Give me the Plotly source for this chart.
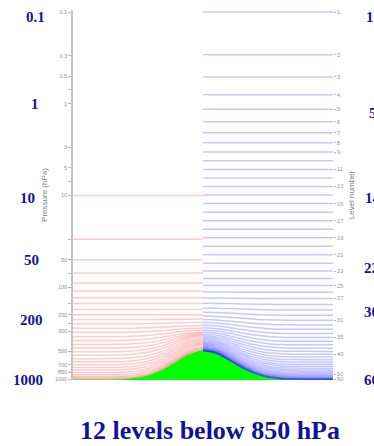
import plotly.graph_objects as go

# ---------------------------------------------------------------------------
# Vertical cross-section of hybrid model levels over an idealised mountain.
# Left half: 31-level set (red); right half: 60-level set (blue).
# ---------------------------------------------------------------------------

P0 = 1013.25  # reference surface pressure, hPa

# L60 hybrid coefficients at half levels: a (Pa) and b
a60 = [0.0, 20.0, 38.425343, 63.647804, 95.636963, 134.483307, 180.584351,
       234.779053, 298.495789, 373.971924, 464.618134, 575.651001, 713.218079,
       883.660522, 1094.834717, 1356.474609, 1680.640259, 2082.273926,
       2579.888672, 3196.421631, 3960.291504, 4906.708496, 6018.019531,
       7306.631348, 8765.053711, 10376.126953, 12077.446289, 13775.325195,
       15379.805664, 16819.474609, 18045.183594, 19027.695313, 19755.109375,
       20222.205078, 20429.863281, 20384.480469, 20097.402344, 19584.330078,
       18864.750000, 17961.357422, 16899.468750, 15706.447266, 14411.124023,
       13043.218750, 11632.758789, 10209.500977, 8802.356445, 7438.803223,
       6144.314941, 4941.778320, 3850.913330, 2887.696533, 2063.779785,
       1385.912598, 855.361755, 467.333588, 210.393890, 65.889244, 7.367743,
       0.0, 0.0]
b60 = [0.0] * 24 + [0.000076, 0.000461, 0.001815, 0.005081, 0.011143,
       0.020678, 0.034121, 0.051690, 0.073534, 0.099675, 0.130023, 0.164384,
       0.202476, 0.243933, 0.288323, 0.335155, 0.383892, 0.433963, 0.484772,
       0.535710, 0.586168, 0.635547, 0.683269, 0.728786, 0.771597, 0.811253,
       0.847375, 0.879657, 0.907884, 0.931940, 0.951822, 0.967645, 0.979663,
       0.988270, 0.994019, 0.997630, 1.000000]

# L31 levels: pressure over flat ground (hPa) and terrain-following weight b
p31_flat = [10, 30, 50, 70, 90, 110, 130, 150, 175, 200, 225, 250, 280, 310,
            345, 380, 420, 460, 505, 550, 600, 650, 700, 750, 800, 850, 895,
            935, 965, 990, 1005]
b31 = [0, 0, 0, 0, 0, 0, 0, 0, 0, 0, 0.005, 0.015, 0.035, 0.06, 0.1, 0.14,
       0.2, 0.26, 0.33, 0.4, 0.47, 0.54, 0.61, 0.68, 0.75, 0.82, 0.87, 0.92,
       0.955, 0.98, 0.992]

# surface pressure along the section (x from 0 to 1)
x_pos = [0.00, 0.05, 0.10, 0.15, 0.20, 0.25, 0.30, 0.35, 0.40, 0.45, 0.50,
         0.55, 0.60, 0.65, 0.70, 0.75, 0.80, 0.85, 0.90, 0.95, 1.00]
ps = [1013.25, 1013.25, 1013.0, 1011.0, 1000.0, 965.0, 895.0, 780.0, 640.0,
      535.0, 490.0, 525.0, 620.0, 750.0, 870.0, 955.0, 995.0, 1010.0, 1013.0,
      1013.25, 1013.25]

# axis labelling
p_ticks = [0.1, 0.3, 0.5, 0.7, 1, 3, 5, 7, 10, 30, 50, 70, 100, 150, 200,
           250, 300, 500, 700, 850, 1000]
p_ticktext = ["0.1", "0.3", "0.5", "", "1", "3", "5", "", "10", "", "50", "",
              "100", "", "200", "", "300", "500", "700", "850", "1000"]
level_ticks = [1, 2, 3, 4, 5, 6, 7, 8, 9, 11, 13, 15, 17, 19, 21, 23, 25, 27,
               31, 35, 40, 50, 60]
p_side_labels = ["0.1", "1", "10", "50", "200", "1000"]
p_side_pos = [17, 104, 198, 260, 320, 380]
p_side_x = [35, 35, 27, 31, 31, 28]
lev_side_labels = ["1", "5", "14", "22", "30", "60"]
lev_side_pos = [17, 113, 198, 268, 312, 380]
lev_side_x = [364, 367, 363, 362, 362, 362]
title_text = "12 levels below 850 hPa"

# layout geometry (pixels)
W, H = 374, 446
L, R, T, B = 73, 41, 10, 66
PW, PH = W - L - R, H - T - B


def px_x(px):
    return (px - L) / PW


def px_y(py):
    return (H - B - py) / PH


fig = go.Figure()

# red: 31-level set on the left half
left_idx = [i for i, x in enumerate(x_pos) if x <= 0.5]
for pf, bk in zip(p31_flat, b31):
    ak = pf - bk * P0
    fig.add_trace(go.Scatter(
        x=[x_pos[i] for i in left_idx],
        y=[ak + bk * ps[i] for i in left_idx],
        mode="lines", line=dict(color="rgba(255,0,0,0.2)", width=1.5,
                                shape="spline"),
        hoverinfo="skip", showlegend=False))

# blue: 60-level set on the right half
right_idx = [i for i, x in enumerate(x_pos) if x >= 0.5]
n60 = len(a60) - 1
p60_flat = []
for k in range(1, n60 + 1):
    af = (a60[k - 1] + a60[k]) / 200.0
    bf = (b60[k - 1] + b60[k]) / 2.0
    p60_flat.append(af + bf * P0)
    fig.add_trace(go.Scatter(
        x=[x_pos[i] for i in right_idx],
        y=[af + bf * ps[i] for i in right_idx],
        yaxis="y2",
        mode="lines", line=dict(color="rgba(0,0,255,0.22)", width=1.5,
                                shape="spline"),
        hoverinfo="skip", showlegend=False))

# mountain
fig.add_trace(go.Scatter(
    x=x_pos + [1.0, 0.0], y=ps + [1100, 1100],
    mode="lines", fill="toself", fillcolor="#00ff00",
    line=dict(color="#00ff00", width=0, shape="spline"),
    hoverinfo="skip", showlegend=False))

yrange = [3.0109, -1.0218]
tick_font = dict(family="Liberation Sans, Arial", size=5.5, color="#909090")

fig.update_layout(
    width=W, height=H, autosize=False,
    margin=dict(l=L, r=R, t=T, b=B, pad=0),
    paper_bgcolor="white", plot_bgcolor="white",
    xaxis=dict(range=[0, 1], visible=False, fixedrange=True),
    yaxis=dict(type="log", range=yrange, tickvals=p_ticks,
               ticktext=p_ticktext, ticks="outside", ticklen=3,
               tickcolor="#b8b8b8", tickfont=tick_font, showgrid=False,
               zeroline=False, showline=True, linecolor="#c4c4c4",
               linewidth=1.5,
               title=dict(text="Pressure (hPa)", standoff=6,
                          font=dict(family="Liberation Sans, Arial", size=8,
                                    color="#808080"))),
    yaxis2=dict(type="log", range=yrange, overlaying="y", side="right",
                tickvals=[p60_flat[n - 1] for n in level_ticks],
                ticktext=[str(n) for n in level_ticks], ticks="outside",
                ticklen=2, tickcolor="#b8b8b8", tickfont=tick_font,
                showgrid=False, zeroline=False, showline=False,
                title=dict(text="Level number", standoff=6,
                           font=dict(family="Liberation Sans, Arial", size=8,
                                     color="#808080"))),
)

big_font = dict(family="Liberation Serif, Times New Roman", size=15,
                color="#12129a")
for txt, py, pxc in zip(p_side_labels, p_side_pos, p_side_x):
    fig.add_annotation(text="<b>%s</b>" % txt, xref="paper", yref="paper",
                       x=px_x(pxc), y=px_y(py), xanchor="center",
                       yanchor="middle", showarrow=False, font=big_font)
for txt, py, pxl in zip(lev_side_labels, lev_side_pos, lev_side_x):
    fig.add_annotation(text="<b>%s</b>" % txt, xref="paper", yref="paper",
                       x=px_x(pxl), y=px_y(py), xanchor="left",
                       yanchor="middle", showarrow=False, font=big_font)

fig.add_annotation(text="<b>%s</b>" % title_text, xref="paper", yref="paper",
                   x=px_x(210), y=px_y(430), xanchor="center",
                   yanchor="middle", showarrow=False,
                   font=dict(family="Liberation Serif, Times New Roman",
                             size=26, color="#12129a"))

fig.write_html("out.html")
